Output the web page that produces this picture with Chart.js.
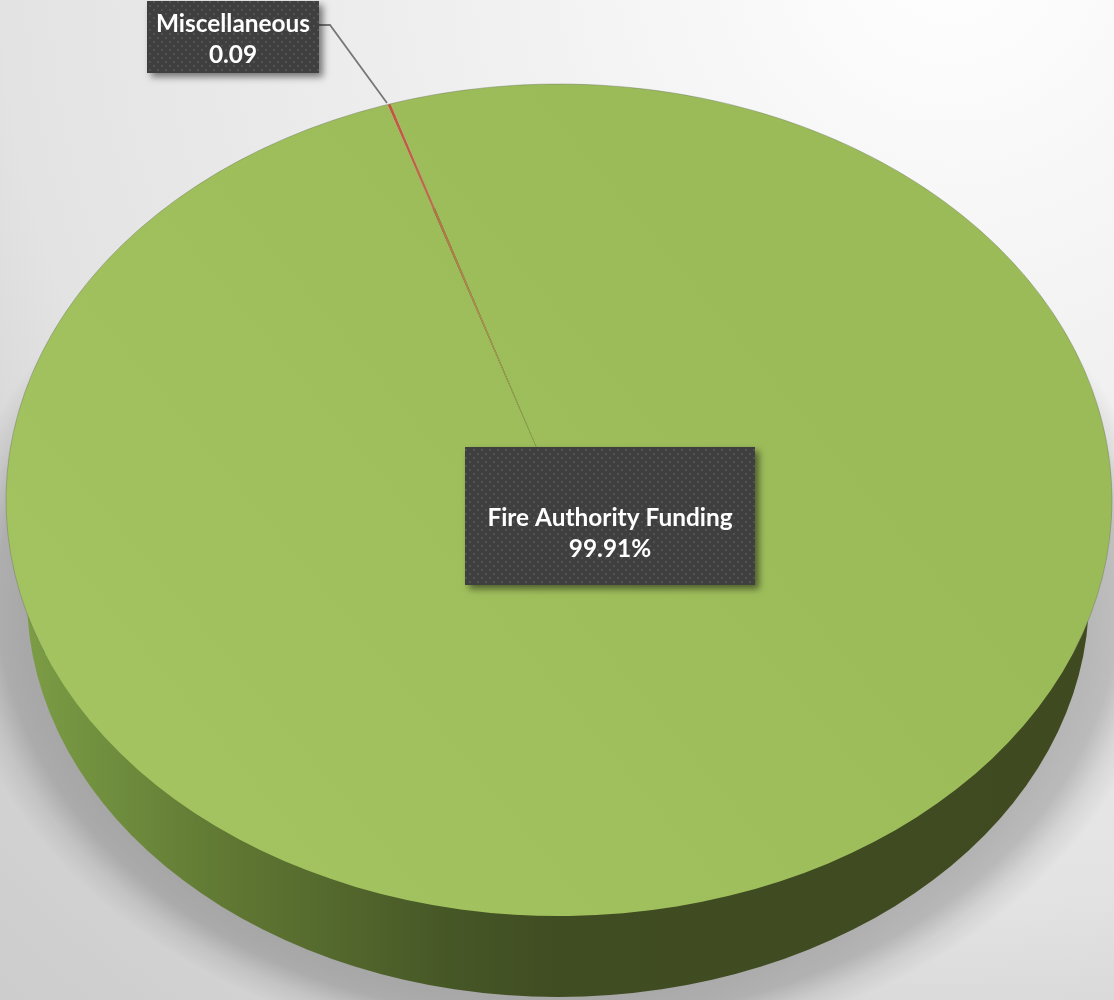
<!DOCTYPE html>
<html>
<head>
<meta charset="utf-8">
<title>Funding</title>
<script src="https://cdn.jsdelivr.net/npm/chart.js@4"></script>
<style>
    html, body { margin: 0; padding: 0; }
    body {
        width: 1114px; height: 1000px; overflow: hidden;
        background: radial-gradient(circle at 950px -50px, #ffffff 0, #f1f1f1 450px, #e3e3e3 950px, #d8d8d8 1080px, #cdcdcd 1400px);
    }
    canvas { display: block; }
</style>
</head>
<body>
<canvas id="chart" width="1114" height="1000"></canvas>
<script>
// --- DATA ---
const categories = ["Fire Authority Funding", "Miscellaneous"];
const shares = [99.91, 0.09];
const shareLabels = ["99.91%", "0.09"];

// --- LOOK ---
const RADIUS = 553;
const SQUASH = 416 / 553;     // how flat the top face is
const START_ANGLE = -17.74;
const FONT = "700 24.4px Lato";

function dotPattern(ctx) {
    const tile = document.createElement("canvas");
    tile.width = 8;
    tile.height = 8;
    const t = tile.getContext("2d");
    t.fillStyle = "#3f3f3f";
    t.fillRect(0, 0, 8, 8);
    t.fillStyle = "#525252";
    t.fillRect(1, 1, 2, 2);
    t.fillRect(5, 5, 2, 2);
    return ctx.createPattern(tile, "repeat");
}

function sliceColor(context) {
    const chart = context.chart;
    const ctx = chart.ctx;
    const area = chart.chartArea;
    if (!area) return "#9bbb59";
    const cx = (area.left + area.right) / 2;
    const cy = (area.top + area.bottom) / 2;
    if (context.dataIndex === 1) {
        const g = ctx.createRadialGradient(cx, cy, 0, cx, cy, RADIUS);
        g.addColorStop(0, "#9bbb59");
        g.addColorStop(0.14, "#9bbb59");
        g.addColorStop(0.5, "#b58a4f");
        g.addColorStop(1, "#bd5640");
        return g;
    }
    const g = ctx.createLinearGradient(0, 800, 800, 300);
    g.addColorStop(0, "#a3c460");
    g.addColorStop(0.55, "#9fbf5c");
    g.addColorStop(1, "#9bbb59");
    return g;
}

// box with a label in it, text is centred on the box
function drawLabel(ctx, box, lines) {
    ctx.save();
    ctx.shadowColor = "rgba(0,0,0,0.5)";
    ctx.shadowBlur = 7;
    ctx.shadowOffsetX = 4;
    ctx.shadowOffsetY = 4;
    ctx.fillStyle = dotPattern(ctx);
    ctx.fillRect(box.x, box.y, box.w, box.h);
    ctx.restore();

    ctx.fillStyle = "#ffffff";
    ctx.font = FONT;
    ctx.textAlign = "center";
    ctx.textBaseline = "middle";
    lines.forEach((line, i) => {
        ctx.fillText(line, box.x + box.w / 2, box.textY + i * 31);
    });
}

const pie3d = {
    id: "pie3d",
    beforeDatasetsDraw(chart) {
        const ctx = chart.ctx;
        const arc = chart.getDatasetMeta(0).data[0];
        const wallRx = RADIUS - 22;
        const wallRy = 400;
        const wallY = arc.y + 97;

        // soft shadow under the wall
        ctx.save();
        ctx.translate(arc.x, wallY);
        ctx.scale(1, wallRy / wallRx);
        const soft = ctx.createRadialGradient(0, 0, wallRx - 5, 0, 0, wallRx + 80);
        soft.addColorStop(0, "rgba(0,0,0,0.22)");
        soft.addColorStop(0.41, "rgba(0,0,0,0.19)");
        soft.addColorStop(0.7, "rgba(0,0,0,0.07)");
        soft.addColorStop(1, "rgba(0,0,0,0)");
        ctx.fillStyle = soft;
        ctx.beginPath();
        ctx.arc(0, 0, wallRx + 80, 0, Math.PI * 2);
        ctx.fill();
        ctx.restore();

        // side wall: a slightly smaller ellipse lower down, top face goes over it
        const wall = ctx.createLinearGradient(arc.x - RADIUS, 0, arc.x + RADIUS, 0);
        wall.addColorStop(0, "#7f9f46");
        wall.addColorStop(0.085, "#71903f");
        wall.addColorStop(0.2, "#607833");
        wall.addColorStop(0.28, "#566b2e");
        wall.addColorStop(0.4, "#465726");
        wall.addColorStop(0.5, "#404c22");
        wall.addColorStop(1, "#3f4a20");
        ctx.fillStyle = wall;
        ctx.beginPath();
        ctx.ellipse(arc.x - 1, wallY, wallRx, wallRy, 0, 0, Math.PI * 2);
        ctx.fill();

        // flatten the pie into the top face
        ctx.save();
        ctx.translate(arc.x, arc.y);
        ctx.scale(1, SQUASH);
        ctx.translate(-arc.x, -arc.y);
    },
    afterDatasetsDraw(chart) {
        const ctx = chart.ctx;
        ctx.restore();
        const arc = chart.getDatasetMeta(0).data[0];

        // thin grey rim on the back edge
        ctx.save();
        ctx.strokeStyle = "rgba(110,120,95,0.45)";
        ctx.lineWidth = 1;
        ctx.beginPath();
        ctx.ellipse(arc.x, arc.y, RADIUS, RADIUS * SQUASH, 0, Math.PI * 0.88, Math.PI * 2.12);
        ctx.stroke();
        ctx.restore();

        // leader line for the small slice
        ctx.save();
        ctx.strokeStyle = "#777777";
        ctx.lineWidth = 1.8;
        ctx.beginPath();
        ctx.moveTo(319, 25);
        ctx.lineTo(330, 25);
        ctx.lineTo(387, 103);
        ctx.stroke();
        ctx.restore();

        drawLabel(ctx, { x: 147, y: 1, w: 172, h: 72, textY: 24 }, [categories[1], shareLabels[1]]);
        drawLabel(ctx, { x: 465, y: 447, w: 290, h: 138, textY: 518 }, [categories[0], shareLabels[0]]);
    }
};

// --- CHART ---
window.onload = () => {
    new Chart(document.getElementById("chart").getContext("2d"), {
        type: "pie",
        data: {
            labels: categories,
            datasets: [{
                data: shares,
                backgroundColor: sliceColor,
                borderWidth: 0,
                clip: false
            }]
        },
        options: {
            responsive: false,
            animation: false,
            radius: RADIUS,
            rotation: START_ANGLE,
            layout: { padding: { left: 4 } },
            plugins: { legend: { display: false }, tooltip: { enabled: false } }
        },
        plugins: [pie3d]
    });
};
</script>
</body>
</html>
